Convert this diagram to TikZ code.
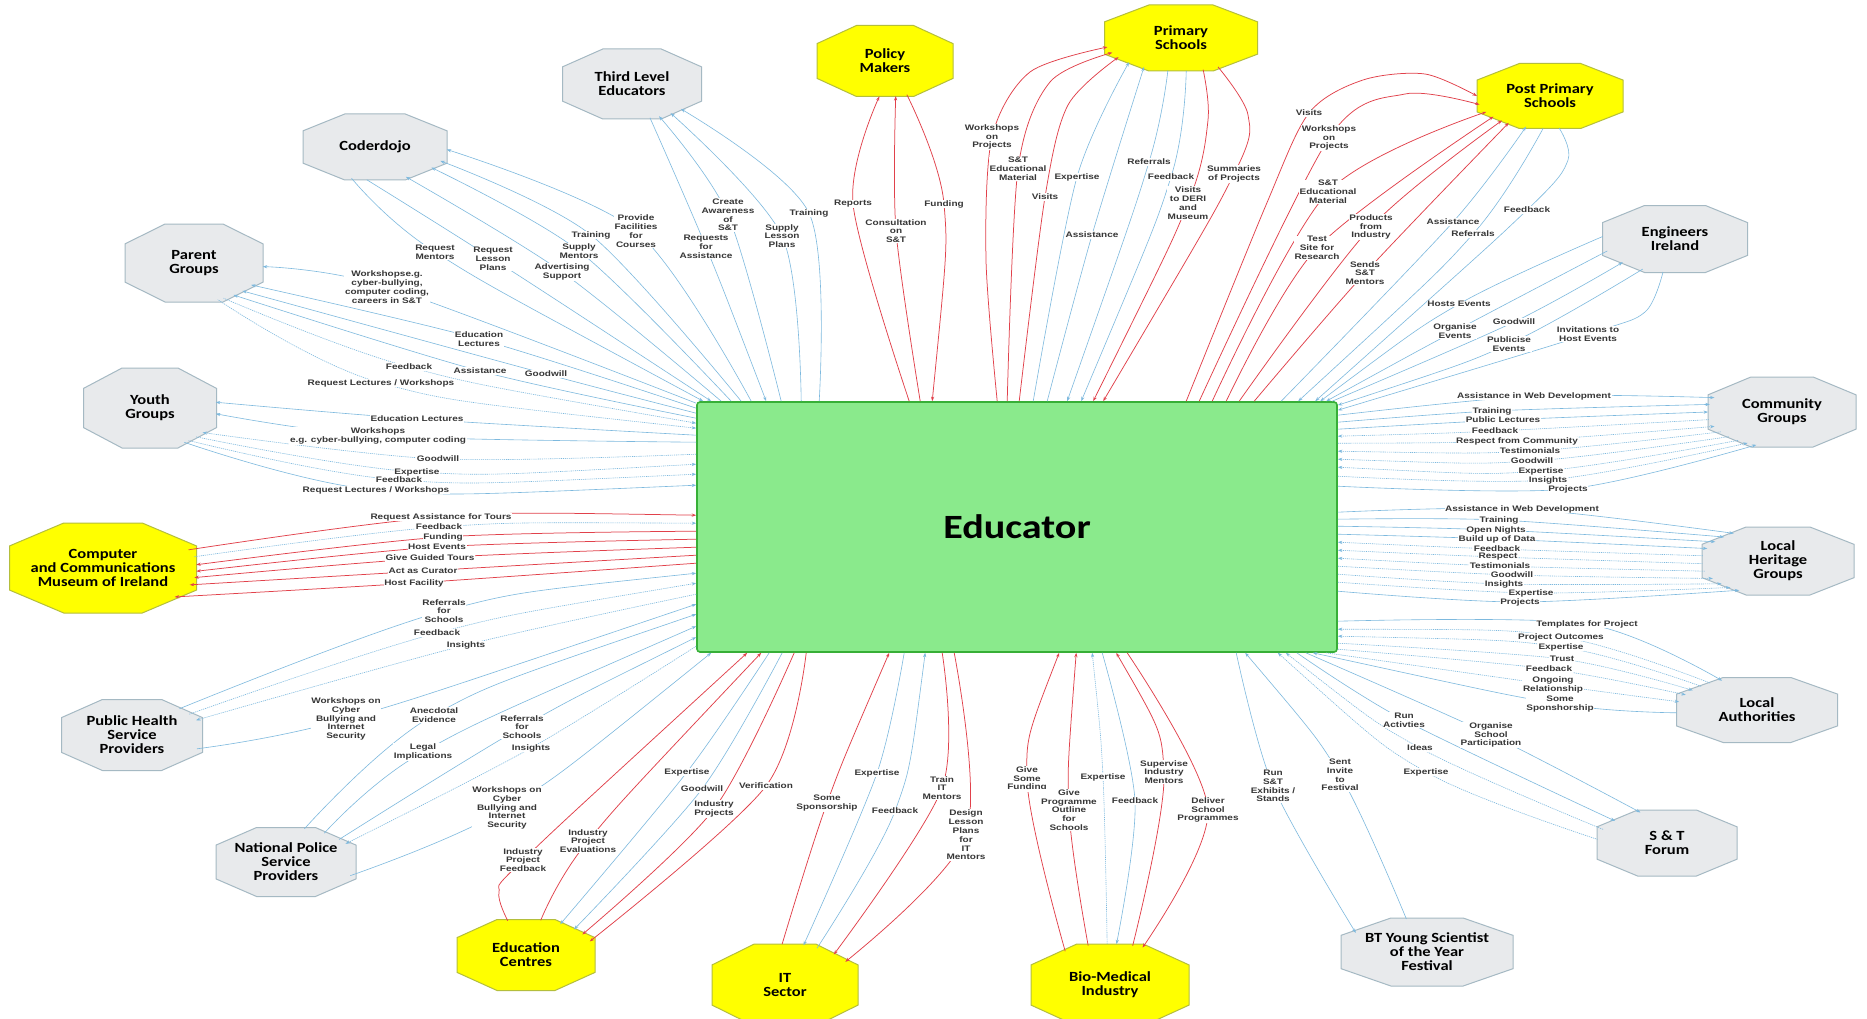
\documentclass[tikz,border=0pt]{standalone}
\usepackage{fontspec}
\usetikzlibrary{shapes.geometric,arrows.meta}
\newfontfamily\octfont[FakeStretch=1.18]{Carlito}
\newfontfamily\lblfont[FakeStretch=1.25]{Liberation Sans}
\definecolor{redl}{RGB}{225,65,75}
\definecolor{bluel}{RGB}{125,185,222}
\definecolor{grayfill}{RGB}{232,234,236}
\definecolor{graydraw}{RGB}{165,185,195}
\definecolor{yelfill}{RGB}{255,255,0}
\definecolor{yeldraw}{RGB}{180,190,60}
\definecolor{edufill}{RGB}{138,234,140}
\definecolor{edudraw}{RGB}{55,175,55}
\definecolor{lbltext}{RGB}{55,55,55}
\pgfdeclarelayer{fg}
\pgfsetlayers{main,fg}
\tikzset{
 lbl/.style={font=\lblfont\bfseries\fontsize{8}{8.8}\selectfont, text=lbltext, fill=white, inner sep=0.6pt, align=center},
 octn/.style={ellipse, inner sep=-30pt, outer sep=0pt, align=center, font=\octfont\bfseries\fontsize{14}{14}\selectfont},
 yoct/.style={fill=yelfill, draw=yeldraw, line width=1pt},
 goct/.style={fill=grayfill, draw=graydraw, line width=1pt},
 edu/.style={rectangle, rounded corners=3pt, fill=edufill, draw=edudraw, line width=1.6pt, minimum width=640pt, minimum height=250pt, inner sep=0pt, font=\octfont\bfseries\fontsize{34}{34}\selectfont},
 rl/.style={draw=redl, line width=0.75pt},
 bl/.style={draw=bluel, line width=0.6pt},
 dl/.style={bl, dash pattern=on 1.2pt off 0.9pt},
 >={Stealth[length=4.5pt,width=3.2pt]}
}
\newcommand\octo[7]{%
 \path[#6] ({#2-0.21*#4},{#3-0.5*#5}) -- ({#2+0.21*#4},{#3-0.5*#5}) -- ({#2+0.5*#4},{#3-0.245*#5}) -- ({#2+0.5*#4},{#3+0.245*#5}) -- ({#2+0.21*#4},{#3+0.5*#5}) -- ({#2-0.21*#4},{#3+0.5*#5}) -- ({#2-0.5*#4},{#3+0.245*#5}) -- ({#2-0.5*#4},{#3-0.245*#5}) -- cycle;
 \node[octn, minimum width=#4pt, minimum height=#5pt] (#1) at (#2,#3) {#7};}
\newcommand\lab[3]{\begin{pgfonlayer}{fg}\node[lbl] (#1) at (#2) {#3};\end{pgfonlayer}}
\newcommand\lnk[4]{\draw[#1] plot[smooth] coordinates {(#2) (#3.center) (#4)};}
\begin{document}
\begin{tikzpicture}[x=1pt,y=-1pt]
\fill[white] (0,0) rectangle (1867,1019);
\useasboundingbox (0,0) rectangle (1867,1019);
% central node
\node[edu] (E) at (1017,527) {Educator};
% octagons
\octo{cd}{375}{147}{144}{66}{goct}{Coderdojo}
\octo{pg}{194}{263}{138}{78}{goct}{Parent\\Groups}
\octo{tl}{632}{84}{139}{70}{goct}{Third Level\\Educators}
\octo{pm}{885}{61}{136}{71}{yoct}{Policy\\Makers}
\octo{ps}{1181}{38}{153}{66}{yoct}{Primary\\Schools}
\octo{pp}{1550}{96}{146}{65}{yoct}{Post Primary\\Schools}
\octo{ei}{1675}{239}{145}{67}{goct}{Engineers\\Ireland}
\octo{cg}{1782}{412}{148}{70}{goct}{Community\\Groups}
\octo{lh}{1778}{561}{152}{68}{goct}{Local\\Heritage\\Groups}
\octo{la}{1757}{710}{161}{65}{goct}{Local\\Authorities}
\octo{stf}{1667}{843}{140}{66}{goct}{S \& T\\Forum}
\octo{bt}{1427}{952}{172}{68}{goct}{BT Young Scientist\\of the Year\\Festival}
\octo{bm}{1110}{985}{158}{82}{yoct}{Bio-Medical\\Industry}
\octo{it}{785}{985}{146}{82}{yoct}{IT\\Sector}
\octo{ec}{526}{955}{138}{71}{yoct}{Education\\Centres}
\octo{np}{286}{862}{140}{69}{goct}{National Police\\Service\\Providers}
\octo{ph}{132}{735}{141}{71}{goct}{Public Health\\Service\\Providers}
\octo{cm}{103}{568}{187}{90}{yoct}{Computer\\and Communications\\Museum of Ireland}
\octo{yg}{150}{408}{133}{80}{goct}{Youth\\Groups}
% Coderdojo
\lab{cda}{435,252}{Request\\Mentors}
\lnk{bl,<-}{[xshift=7pt]E.north west}{cda}{cd.-127}
\lab{cdb}{493,259}{Request\\Lesson\\Plans}
\lnk{bl,<-}{[xshift=15pt]E.north west}{cdb}{cd.-104}
\lab{cdc}{562,272}{Advertising\\Support}
\lnk{bl,->}{[xshift=25pt]E.north west}{cdc}{cd.-44}
\lab{cdd}{579,251}{Supply\\Mentors}
\lnk{bl,->}{[xshift=35pt]E.north west}{cdd}{cd.-20}
\lab{cde}{591,235}{Training}
\lnk{bl,->}{[xshift=45pt]E.north west}{cde}{cd.-12}
\lab{cdf}{636,231}{Provide\\Facilities\\for\\Courses}
\lnk{bl,->}{[xshift=55pt]E.north west}{cdf}{cd.-2}
% Third level
\lab{tla}{706,247}{Requests\\for\\Assistance}
\lnk{bl,<-}{[xshift=70pt]E.north west}{tla}{tl.-62}
\lab{tlb}{728,215}{Create\\Awareness\\of\\S\&T}
\lnk{bl,->}{[xshift=85pt]E.north west}{tlb}{tl.-50}
\lab{tlc}{782,236}{Supply\\Lesson\\Plans}
\lnk{bl,->}{[xshift=105pt]E.north west}{tlc}{tl.-37}
\lab{tld}{809,213}{Training}
\lnk{bl,->}{[xshift=123pt]E.north west}{tld}{tl.-27}
% Policy makers
\lab{pma}{853,204}{Reports}
\lnk{rl,->}{[xshift=213pt]E.north west}{pma}{pm.-99}
\lab{pmb}{896,231}{Consultation\\on\\S\&T}
\lnk{rl,->}{[xshift=224pt]E.north west}{pmb}{pm.-73}
\lab{pmc}{944,204}{Funding}
\lnk{rl,<-}{[xshift=236pt]E.north west}{pmc}{pm.-57}
% Primary schools
\lab{psa}{992,137}{Workshops\\on\\Projects}
\draw[rl,->] plot[smooth] coordinates {([xshift=301pt]E.north west) (986,260) (psa.center) (1030,72) (ps.187)};
\lab{psb}{1018,169}{S\&T\\Educational\\Material}
\draw[rl,->] plot[smooth] coordinates {([xshift=311pt]E.north west) (psb.center) (1050,82) (ps.192)};
\lab{psc}{1045,197}{Visits}
\draw[rl,->] plot[smooth] coordinates {([xshift=323pt]E.north west) (psc.center) (1068,105) (ps.197)};
\lab{psd}{1077,177}{Expertise}
\lnk{bl,->}{[xshift=337pt]E.north west}{psd}{ps.205}
\lab{pse}{1092,235}{Assistance}
\lnk{bl,->}{[xshift=351pt]E.north west}{pse}{ps.218}
\lab{psf}{1149,162}{Referrals}
\lnk{bl,<-}{[xshift=371pt]E.north west}{psf}{ps.248}
\lab{psg}{1171,177}{Feedback}
\lnk{bl,<-}{[xshift=385pt]E.north west}{psg}{ps.279}
\lab{psh}{1188,203}{Visits\\to DERI\\and\\Museum}
\draw[rl,<-] plot[smooth] coordinates {([xshift=397pt]E.north west) (psh.center) (1208,120) (ps.305)};
\lab{psi}{1234,174}{Summaries\\of Projects}
\draw[rl,<-] plot[smooth] coordinates {([xshift=407pt]E.north west) (psi.center) (1248,115) (ps.322)};
% Post primary
\lab{ppa}{1309,113}{Visits}
\draw[rl,->] plot[smooth] coordinates {([xshift=490pt]E.north west) (1266,205) (ppa.center) (1363,80) (1425,74) (pp.180)};
\lab{ppb}{1329,138}{Workshops\\on\\Projects}
\draw[rl,->] plot[smooth] coordinates {([xshift=503pt]E.north west) (ppb.center) (1405,94) (pp.187)};
\lab{ppc}{1328,192}{S\&T\\Educational\\Material}
\lnk{rl,->}{[xshift=516pt]E.north west}{ppc}{pp.194}
\lab{ppd}{1317,248}{Test\\Site for\\Research}
\lnk{rl,->}{[xshift=530pt]E.north west}{ppd}{pp.200}
\lab{ppe}{1371,227}{Products\\from\\Industry}
\lnk{rl,->}{[xshift=543pt]E.north west}{ppe}{pp.207}
\lab{ppf}{1365,273}{Sends\\S\&T\\Mentors}
\lnk{rl,->}{[xshift=558pt]E.north west}{ppf}{pp.213}
\lab{ppg}{1453,222}{Assistance}
\lnk{bl,->}{[xshift=585pt]E.north west}{ppg}{pp.232}
\lab{pph}{1473,234}{Referrals}
\lnk{bl,<-}{[xshift=602pt]E.north west}{pph}{pp.258}
\lab{ppi}{1527,210}{Feedback}
\draw[bl,<-] plot[smooth] coordinates {([xshift=619pt]E.north west) (ppi.center) (1568,160) (pp.286)};
% Engineers Ireland
\lab{eia}{1459,304}{Hosts Events}
\lnk{bl,<-}{[xshift=624pt]E.north west}{eia}{ei.178}
\lab{eib}{1455,331}{Organise\\Events}
\lnk{bl,<-}{[xshift=630pt]E.north west}{eib}{ei.190}
\lab{eic}{1514,322}{Goodwill}
\lnk{bl,->}{[xshift=636pt]E.north west}{eic}{ei.204}
\lab{eid}{1509,344}{Publicise\\Events}
\lnk{bl,<-}{[yshift=-4pt]E.north east}{eid}{ei.223}
\lab{eie}{1588,334}{Invitations to\\Host Events}
\draw[bl,<-] plot[smooth] coordinates {([yshift=-9pt]E.north east) (eie.center) (1645,312) (ei.250)};
% Community groups
\lab{cga}{1534,396}{Assistance in Web Development}
\lnk{bl,->}{[yshift=-14pt]E.north east}{cga}{cg.168}
\lab{cgb}{1492,411}{Training}
\lnk{bl,->}{[yshift=-21pt]E.north east}{cgb}{cg.174}
\lab{cgc}{1503,420}{Public Lectures}
\lnk{bl,->}{[yshift=-28pt]E.north east}{cgc}{cg.180}
\lab{cgd}{1495,431}{Feedback}
\lnk{dl,<-}{[yshift=-35pt]E.north east}{cgd}{cg.186}
\lab{cge}{1517,441}{Respect from Community}
\lnk{dl,->}{[yshift=-42pt]E.north east}{cge}{cg.192}
\lab{cgf}{1530,451}{Testimonials}
\lnk{dl,<-}{[yshift=-50pt]E.north east}{cgf}{cg.198}
\lab{cgg}{1532,461}{Goodwill}
\lnk{dl,<-}{[yshift=-58pt]E.north east}{cgg}{cg.205}
\lab{cgh}{1541,471}{Expertise}
\lnk{dl,<-}{[yshift=-66pt]E.north east}{cgh}{cg.213}
\lab{cgi}{1548,480}{Insights}
\lnk{dl,->}{[yshift=-75pt]E.north east}{cgi}{cg.222}
\lab{cgj}{1568,489}{Projects}
\lnk{bl,->}{[yshift=-85pt]E.north east}{cgj}{cg.232}
% Local heritage
\lab{lha}{1522,509}{Assistance in Web Development}
\lnk{bl,->}{[yshift=-111pt]E.north east}{lha}{lh.148}
\lab{lhb}{1499,520}{Training}
\lnk{bl,->}{[yshift=-118pt]E.north east}{lhb}{lh.156}
\lab{lhc}{1496,530}{Open Nights}
\lnk{bl,->}{[yshift=-125pt]E.north east}{lhc}{lh.163}
\lab{lhd}{1497,539}{Build up of Data}
\lnk{bl,->}{[yshift=-133pt]E.north east}{lhd}{lh.170}
\lab{lhe}{1497,549}{Feedback}
\lnk{dl,<-}{[yshift=-141pt]E.north east}{lhe}{lh.176}
\lab{lhf}{1498,557}{Respect}
\lnk{dl,<-}{[yshift=-149pt]E.north east}{lhf}{lh.182}
\lab{lhg}{1500,566}{Testimonials}
\lnk{dl,<-}{[yshift=-157pt]E.north east}{lhg}{lh.188}
\lab{lhh}{1512,575}{Goodwill}
\lnk{dl,->}{[yshift=-165pt]E.north east}{lhh}{lh.195}
\lab{lhi}{1504,584}{Insights}
\lnk{dl,->}{[yshift=-173pt]E.north east}{lhi}{lh.202}
\lab{lhj}{1531,593}{Expertise}
\lnk{dl,->}{[yshift=-181pt]E.north east}{lhj}{lh.209}
\lab{lhk}{1520,602}{Projects}
\lnk{bl,->}{[yshift=-190pt]E.north east}{lhk}{lh.217}
% Local authorities
\lab{laa}{1587,624}{Templates for Project}
\lnk{bl,->}{[yshift=-220pt]E.north east}{laa}{la.140}
\lab{lab}{1561,637}{Project Outcomes}
\lnk{dl,<-}{[yshift=-228pt]E.north east}{lab}{la.150}
\lab{lac}{1561,647}{Expertise}
\lnk{dl,<-}{[yshift=-235pt]E.north east}{lac}{la.157}
\lab{lad}{1562,659}{Trust}
\lnk{dl,->}{[yshift=-242pt]E.north east}{lad}{la.163}
\lab{lae}{1549,669}{Feedback}
\lnk{dl,->}{[yshift=-248pt]E.north east}{lae}{la.168}
\lab{laf}{1553,685}{Ongoing\\Relationship}
\lnk{dl,->}{[xshift=-12pt]E.south east}{laf}{la.174}
\lab{lag}{1560,704}{Some\\Sponshorship}
\lnk{bl,<-}{[xshift=-25pt]E.south east}{lag}{la.182}
% S&T forum
\lab{sta}{1404,720}{Run\\Activties}
\lnk{bl,->}{[xshift=-41pt]E.south east}{sta}{stf.157}
\lab{stb}{1491,735}{Organise\\School\\Participation}
\lnk{bl,->}{[xshift=-32pt]E.south east}{stb}{stf.131}
\lab{stc}{1420,748}{Ideas}
\lnk{dl,<-}{[xshift=-52pt]E.south east}{stc}{stf.168}
\lab{std}{1426,772}{Expertise}
\lnk{dl,<-}{[xshift=-60pt]E.south east}{std}{stf.177}
% BT Young Scientist
\lab{bta}{1273,786}{Run\\S\&T\\Exhibits /\\Stands}
\lnk{bl,->}{[xshift=540pt]E.south west}{bta}{bt.165}
\lab{btb}{1340,775}{Sent\\Invite\\to\\Festival}
\lnk{bl,<-}{[xshift=549pt]E.south west}{btb}{bt.122}
% Bio-medical
\lab{bma}{1027,779}{Give\\Some\\Funding}
\lnk{rl,<-}{[xshift=363pt]E.south west}{bma}{bm.143}
\lab{bmb}{1069,810}{Give\\Programme\\Outline\\for\\Schools}
\lnk{rl,<-}{[xshift=380pt]E.south west}{bmb}{bm.119}
\lab{bmc}{1103,777}{Expertise}
\lnk{dl,<-}{[xshift=396pt]E.south west}{bmc}{bm.94}
\lab{bmd}{1135,801}{Feedback}
\lnk{bl,->}{[xshift=406pt]E.south west}{bmd}{bm.81}
\lab{bme}{1164,772}{Supervise\\Industry\\Mentors}
\lnk{rl,<-}{[xshift=420pt]E.south west}{bme}{bm.60}
\lab{bmf}{1208,810}{Deliver\\School\\Programmes}
\lnk{rl,->}{[xshift=431pt]E.south west}{bmf}{bm.49}
% IT sector
\lab{ita}{827,803}{Some\\Sponsorship}
\lnk{rl,<-}{[xshift=193pt]E.south west}{ita}{it.94}
\lab{itb}{877,773}{Expertise}
\lnk{bl,->}{[xshift=208pt]E.south west}{itb}{it.65}
\lab{itc}{895,811}{Feedback}
\lnk{bl,<-}{[xshift=229pt]E.south west}{itc}{it.49}
\lab{itd}{942,788}{Train\\IT\\Mentors}
\lnk{rl,->}{[xshift=246pt]E.south west}{itd}{it.32}
\lab{ite}{966,835}{Design\\Lesson\\Plans\\for\\IT\\Mentors}
\lnk{rl,->}{[xshift=258pt]E.south west}{ite}{it.21}
% Education centres
\lab{eca}{523,860}{Industry\\Project\\Feedback}
\draw[rl,<-] plot[smooth] coordinates {([xshift=51pt]E.south west) (eca.center) (499,892) (ec.118)};
\lab{ecb}{588,841}{Industry\\Project\\Evaluations}
\lnk{rl,<-}{[xshift=65pt]E.south west}{ecb}{ec.67}
\lab{ecc}{687,772}{Expertise}
\lnk{bl,->}{[xshift=73pt]E.south west}{ecc}{ec.42}
\lab{ecd}{702,789}{Goodwill}
\lnk{bl,->}{[xshift=86pt]E.south west}{ecd}{ec.28}
\lab{ece}{714,809}{Industry\\Projects}
\lnk{rl,->}{[xshift=98pt]E.south west}{ece}{ec.20}
\lab{ecf}{766,786}{Verification}
\lnk{rl,->}{[xshift=110pt]E.south west}{ecf}{ec.12}
% National police
\lab{npa}{434,715}{Anecdotal\\Evidence}
\lnk{bl,<-}{[yshift=-213pt]E.north west}{npa}{np.61}
\lab{npb}{423,752}{Legal\\Implications}
\lnk{bl,<-}{[yshift=-225pt]E.north west}{npb}{np.37}
\lab{npc}{522,727}{Referrals\\for\\Schools}
\lnk{bl,<-}{[yshift=-236pt]E.north west}{npc}{np.23}
\lab{npd}{531,748}{Insights}
\lnk{dl,->}{[yshift=-245pt]E.north west}{npd}{np.17}
\lab{npe}{507,808}{Workshops on\\Cyber\\Bullying and\\Internet\\Security}
\lnk{bl,<-}{[xshift=15pt]E.south west}{npe}{np.-12}
% Public health
\lab{pha}{444,611}{Referrals\\for\\Schools}
\lnk{bl,<-}{[yshift=-172pt]E.north west}{pha}{ph.29}
\lab{phb}{437,633}{Feedback}
\lnk{dl,<-}{[yshift=-182pt]E.north west}{phb}{ph.20}
\lab{phc}{466,645}{Insights}
\lnk{dl,->}{[yshift=-193pt]E.north west}{phc}{ph.13}
\lab{phd}{346,719}{Workshops on\\Cyber\\Bullying and\\Internet\\Security}
\lnk{bl,<-}{[yshift=-203pt]E.north west}{phd}{ph.-12}
% Computer museum
\lab{cma}{441,517}{Request Assistance for Tours}
\lnk{rl,<-}{[yshift=-114pt]E.north west}{cma}{cm.12}
\lab{cmb}{439,527}{Feedback}
\lnk{dl,<-}{[yshift=-122pt]E.north west}{cmb}{cm.7}
\lab{cmc}{443,537}{Funding}
\lnk{rl,->}{[yshift=-130pt]E.north west}{cmc}{cm.2}
\lab{cmd}{437,547}{Host Events}
\lnk{rl,->}{[yshift=-138pt]E.north west}{cmd}{cm.-2}
\lab{cme}{430,558}{Give Guided Tours}
\lnk{rl,->}{[yshift=-146pt]E.north west}{cme}{cm.-6}
\lab{cmf}{423,571}{Act as Curator}
\lnk{rl,->}{[yshift=-154pt]E.north west}{cmf}{cm.-11}
\lab{cmg}{414,583}{Host Facility}
\lnk{rl,->}{[yshift=-162pt]E.north west}{cmg}{cm.-22}
% Youth groups
\lab{yga}{417,419}{Education Lectures}
\lnk{bl,->}{[yshift=-34pt]E.north west}{yga}{yg.5}
\lab{ygb}{378,436}{Workshops\\e.g. cyber-bullying, computer coding}
\lnk{bl,->}{[yshift=-41pt]E.north west}{ygb}{yg.-5}
\lab{ygc}{438,459}{Goodwill}
\lnk{dl,->}{[yshift=-53pt]E.north west}{ygc}{yg.-25}
\lab{ygd}{417,472}{Expertise}
\lnk{dl,<-}{[yshift=-63pt]E.north west}{ygd}{yg.-32}
\lab{yge}{399,480}{Feedback}
\lnk{dl,<-}{[yshift=-73pt]E.north west}{yge}{yg.-40}
\lab{ygf}{376,490}{Request Lectures / Workshops}
\lnk{bl,<-}{[yshift=-84pt]E.north west}{ygf}{yg.-45}
% Parent groups
\lab{pga}{387,287}{Workshopse.g.\\cyber-bullying,\\computer coding,\\careers in S\&T}
\lnk{bl,->}{[yshift=-2pt]E.north west}{pga}{pg.-3}
\lab{pgb}{479,339}{Education\\Lectures}
\lnk{bl,->}{[yshift=-7pt]E.north west}{pgb}{pg.-21}
\lab{pgc}{546,374}{Goodwill}
\lnk{bl,->}{[yshift=-12pt]E.north west}{pgc}{pg.-30}
\lab{pgd}{480,371}{Assistance}
\lnk{bl,->}{[yshift=-17pt]E.north west}{pgd}{pg.-39}
\lab{pge}{409,367}{Feedback}
\lnk{dl,<-}{[yshift=-22pt]E.north west}{pge}{pg.-50}
\lab{pgf}{381,383}{Request Lectures / Workshops}
\lnk{dl,<-}{[yshift=-27pt]E.north west}{pgf}{pg.-57}
\end{tikzpicture}
\end{document}
